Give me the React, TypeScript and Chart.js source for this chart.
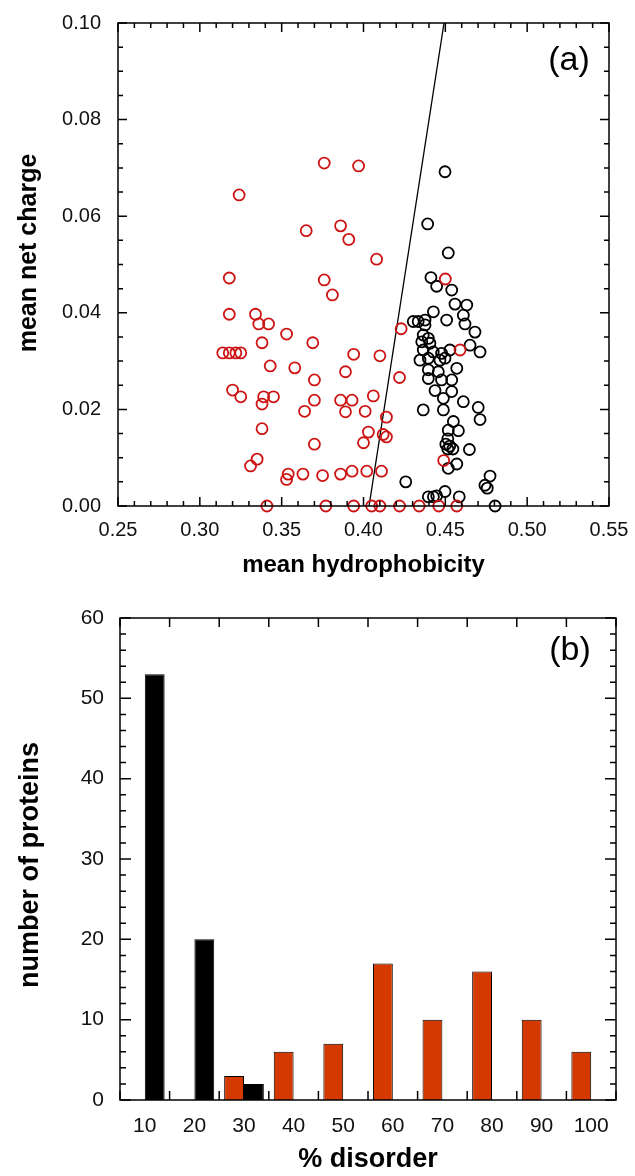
import React, { useEffect, useRef } from 'react';
import { Chart, registerables } from 'chart.js';
Chart.register(...registerables);

// ---------- Panel (a) data ----------
const redHydro = [0.376, 0.397, 0.324, 0.365, 0.386, 0.391, 0.408, 0.318, 0.376, 0.381, 0.318, 0.334, 0.336, 0.342, 0.353, 0.338, 0.369, 0.423, 0.314, 0.318, 0.322, 0.325, 0.394, 0.410, 0.343, 0.358, 0.389, 0.370, 0.422, 0.320, 0.325, 0.339, 0.345, 0.338, 0.370, 0.386, 0.393, 0.406, 0.364, 0.389, 0.401, 0.414, 0.338, 0.403, 0.412, 0.414, 0.400, 0.370, 0.335, 0.331, 0.354, 0.353, 0.363, 0.375, 0.386, 0.393, 0.402, 0.411,
  0.341, 0.377, 0.394, 0.405, 0.410, 0.422, 0.434, 0.446, 0.457,
  0.450, 0.459, 0.449];
const redCharge = [0.0710, 0.0704, 0.0644, 0.0570, 0.0580, 0.0552, 0.0511, 0.0472, 0.0468, 0.0437, 0.0397, 0.0397, 0.0377, 0.0377, 0.0356, 0.0338, 0.0338, 0.0367, 0.0317, 0.0317, 0.0317, 0.0317, 0.0314, 0.0311, 0.0290, 0.0286, 0.0278, 0.0261, 0.0266, 0.0240, 0.0226, 0.0226, 0.0226, 0.0211, 0.0219, 0.0219, 0.0219, 0.0228, 0.0196, 0.0195, 0.0196, 0.0184, 0.0160, 0.0153, 0.0148, 0.0143, 0.0131, 0.0128, 0.0097, 0.0083, 0.0066, 0.0055, 0.0066, 0.0063, 0.0066, 0.0072, 0.0072, 0.0072,
  0, 0, 0, 0, 0, 0, 0, 0, 0,
  0.0470, 0.0323, 0.0094];

const blackHydro = [0.4498, 0.4392, 0.4518, 0.4412, 0.4447, 0.4539, 0.4559, 0.4631, 0.4427, 0.4610, 0.4508, 0.4620, 0.4304, 0.4334, 0.4376, 0.4376, 0.4681, 0.4365, 0.4396, 0.4356, 0.4406, 0.4651, 0.4712, 0.4365, 0.4426, 0.4477, 0.4528, 0.4345, 0.4396, 0.4467, 0.4498, 0.4570, 0.4396, 0.4457, 0.4396, 0.4477, 0.4539, 0.4437, 0.4539, 0.4488, 0.4610, 0.4701, 0.4365, 0.4488, 0.4549, 0.4712, 0.4518, 0.4580, 0.4515, 0.4503, 0.4527, 0.4515, 0.4546, 0.4647, 0.4570, 0.4518, 0.4258, 0.4773, 0.4742, 0.4756, 0.4396, 0.4427, 0.4447, 0.4498, 0.4585, 0.4804];
const blackCharge = [0.0692, 0.0584, 0.0524, 0.0473, 0.0455, 0.0447, 0.0418, 0.0416, 0.0402, 0.0395, 0.0385, 0.0377, 0.0382, 0.0382, 0.0385, 0.0375, 0.0360, 0.0354, 0.0347, 0.0340, 0.0337, 0.0333, 0.0319, 0.0323, 0.0319, 0.0316, 0.0323, 0.0302, 0.0306, 0.0302, 0.0306, 0.0285, 0.0282, 0.0278, 0.0264, 0.0261, 0.0261, 0.0239, 0.0237, 0.0223, 0.0216, 0.0204, 0.0199, 0.0199, 0.0175, 0.0179, 0.0157, 0.0156, 0.0139, 0.0128, 0.0124, 0.0118, 0.0118, 0.0117, 0.0087, 0.0078, 0.0050, 0.0062, 0.0043, 0.0037, 0.0019, 0.0019, 0.0021, 0.0030, 0.0019, 0];

const boundaryHydro = [0.4034, 0.4492];
const boundaryCharge = [0, 0.1];

const xTicksA = [0.25, 0.30, 0.35, 0.40, 0.45, 0.50, 0.55];
const yTicksA = [0.00, 0.02, 0.04, 0.06, 0.08, 0.10];
const xMinorStepA = 0.01;
const yMinorStepA = 0.005;

// ---------- Panel (b) data ----------
const disorderCats = ['10', '20', '30', '40', '50', '60', '70', '80', '90', '100'];
const redCounts = [null, null, 3, 6, 7, 17, 10, 16, 10, 6];
const blackCounts = [53, 20, 2, null, null, null, null, null, null, null];
const yTicksB = [0, 10, 20, 30, 40, 50, 60];
const yMinorStepB = 2;

const FONT = "'Liberation Sans', Arial, sans-serif";
const RED_PT = 'rgb(205, 20, 20)';
const RED_BAR = '#d43a00';

function drawTickSet(ctx: any, segs: number[][]) {
  ctx.beginPath();
  for (const s of segs) {
    ctx.moveTo(s[0], s[1]);
    ctx.lineTo(s[2], s[3]);
  }
  ctx.stroke();
}

type FrameCfg = {
  kind: string;
  label: string;
  lx: number;
  ly: number;
  yTitle: string;
  yTitleSize: number;
  yTitleX: number;
  yTitleY: number;
};

function framePlugin(cfg: FrameCfg) {
  return {
    id: 'frame' + cfg.kind,
    afterDraw(chart: any) {
      const ctx = chart.ctx;
      const area = chart.chartArea;
      const left = area.left, right = area.right, top = area.top, bottom = area.bottom;
      const xs = chart.scales['x'];
      const ys = chart.scales['y'];
      const segs: number[][] = [];
      if (cfg.kind === 'a') {
        const nx = Math.round((xs.max - xs.min) / xMinorStepA);
        for (let i = 0; i <= nx; i++) {
          const v = xs.min + i * xMinorStepA;
          const len = i % 5 === 0 ? 9 : 5;
          const px = xs.getPixelForValue(v);
          segs.push([px, bottom, px, bottom - len]);
          segs.push([px, top, px, top + len]);
        }
        const ny = Math.round((ys.max - ys.min) / yMinorStepA);
        for (let i = 0; i <= ny; i++) {
          const v = ys.min + i * yMinorStepA;
          const len = i % 4 === 0 ? 9 : 5;
          const py = ys.getPixelForValue(v);
          segs.push([left, py, left + len, py]);
          segs.push([right, py, right - len, py]);
        }
      } else {
        for (let i = 0; i <= disorderCats.length; i++) {
          const px = xs.getPixelForValue(i - 0.5);
          segs.push([px, bottom, px, bottom - 9]);
          segs.push([px, top, px, top + 9]);
        }
        const ny = Math.round((ys.max - ys.min) / yMinorStepB);
        for (let i = 0; i <= ny; i++) {
          const v = ys.min + i * yMinorStepB;
          const len = i % 5 === 0 ? 11 : 6;
          const py = ys.getPixelForValue(v);
          segs.push([left, py, left + len, py]);
          segs.push([right, py, right - len, py]);
        }
      }
      ctx.save();
      ctx.strokeStyle = '#000000';
      ctx.lineWidth = 1.5;
      drawTickSet(ctx, segs);
      ctx.strokeRect(left, top, right - left, bottom - top);
      ctx.fillStyle = '#000';
      ctx.font = `34px ${FONT}`;
      ctx.textAlign = 'center';
      ctx.textBaseline = 'middle';
      ctx.fillText(cfg.label, right - cfg.lx, top + cfg.ly);
      // vertical axis title
      ctx.save();
      ctx.translate(cfg.yTitleX, cfg.yTitleY);
      ctx.rotate(-Math.PI / 2);
      ctx.font = `bold ${cfg.yTitleSize}px ${FONT}`;
      ctx.fillText(cfg.yTitle, 0, 0);
      ctx.restore();
      ctx.restore();
    },
  };
}

const zeroHPad = (s: any) => { s.paddingLeft = 0; s.paddingRight = 0; };
const zeroVPad = (s: any) => { s.paddingTop = 0; s.paddingBottom = 0; };

export default function App() {
  const refA = useRef<HTMLCanvasElement>(null);
  const refB = useRef<HTMLCanvasElement>(null);

  useEffect(() => {
    Chart.defaults.font.family = FONT;
    Chart.defaults.color = '#111';

    const redPts = redHydro.map((x, i) => ({ x, y: redCharge[i] }));
    const blackPts = blackHydro.map((x, i) => ({ x, y: blackCharge[i] }));
    const linePts = boundaryHydro.map((x, i) => ({ x, y: boundaryCharge[i] }));

    const chartA = new Chart(refA.current as HTMLCanvasElement, {
      type: 'scatter',
      data: {
        datasets: [
          {
            data: redPts,
            pointStyle: 'circle',
            pointRadius: 5.5,
            pointBorderWidth: 1.8,
            borderColor: RED_PT,
            backgroundColor: 'rgba(0,0,0,0)',
            clip: false,
            order: 1,
          } as any,
          {
            data: blackPts,
            pointStyle: 'circle',
            pointRadius: 5.5,
            pointBorderWidth: 1.8,
            borderColor: '#000',
            backgroundColor: 'rgba(0,0,0,0)',
            clip: false,
            order: 2,
          } as any,
          {
            type: 'line',
            data: linePts,
            borderColor: '#000',
            borderWidth: 1.3,
            pointRadius: 0,
            showLine: true,
            fill: false,
            order: 3,
          } as any,
        ],
      },
      options: {
        responsive: false,
        animation: false,
        events: [],
        layout: { padding: { left: 0, right: 26, top: 23, bottom: 0 } },
        plugins: { legend: { display: false }, tooltip: { enabled: false } },
        scales: {
          x: {
            type: 'linear',
            min: 0.25,
            max: 0.55,
            afterBuildTicks: (s: any) => { s.ticks = xTicksA.map((v) => ({ value: v })); },
            afterFit: (s: any) => { s.height = 86; zeroHPad(s); },
            grid: { display: false, drawTicks: false },
            border: { display: false },
            ticks: {
              padding: 12,
              font: { size: 20 },
              color: '#111',
              callback: (v: any) => Number(v).toFixed(2),
              maxRotation: 0,
            },
            title: {
              display: true,
              text: 'mean hydrophobicity',
              font: { size: 24, weight: 'bold' },
              color: '#000',
              padding: { top: 0, bottom: 12 },
            },
          },
          y: {
            type: 'linear',
            min: 0,
            max: 0.1,
            afterBuildTicks: (s: any) => { s.ticks = yTicksA.map((v) => ({ value: v })); },
            afterFit: (s: any) => { s.width = 118; zeroVPad(s); },
            grid: { display: false, drawTicks: false },
            border: { display: false },
            ticks: {
              padding: 17,
              font: { size: 20 },
              color: '#111',
              callback: (v: any) => Number(v).toFixed(2),
            },
            title: { display: false },
          },
        },
      },
      plugins: [framePlugin({ kind: 'a', label: '(a)', lx: 40, ly: 38, yTitle: 'mean net charge', yTitleSize: 25, yTitleX: 29, yTitleY: 253 })],
    } as any);

    const chartB = new Chart(refB.current as HTMLCanvasElement, {
      type: 'bar',
      data: {
        labels: disorderCats,
        datasets: [
          {
            data: redCounts,
            backgroundColor: RED_BAR,
            borderColor: '#000',
            borderWidth: 1,
            borderSkipped: 'bottom',
            categoryPercentage: 0.8,
            barPercentage: 1.0,
          } as any,
          {
            data: blackCounts,
            backgroundColor: '#000',
            borderColor: '#000',
            borderWidth: 1,
            borderSkipped: 'bottom',
            categoryPercentage: 0.8,
            barPercentage: 1.0,
          } as any,
        ],
      },
      options: {
        responsive: false,
        animation: false,
        events: [],
        layout: { padding: { left: 0, right: 19, top: 26, bottom: 0 } },
        plugins: { legend: { display: false }, tooltip: { enabled: false } },
        scales: {
          x: {
            type: 'category',
            offset: true,
            afterFit: (s: any) => { s.height = 76; zeroHPad(s); },
            grid: { display: false, drawTicks: false, offset: true },
            border: { display: false },
            ticks: { padding: 14, font: { size: 21 }, color: '#111', maxRotation: 0, autoSkip: false },
            title: {
              display: true,
              text: '% disorder',
              font: { size: 27, weight: 'bold' },
              color: '#000',
              padding: { top: 0, bottom: 0 },
            },
          },
          y: {
            type: 'linear',
            min: 0,
            max: 60,
            afterBuildTicks: (s: any) => { s.ticks = yTicksB.map((v) => ({ value: v })); },
            afterFit: (s: any) => { s.width = 120; zeroVPad(s); },
            grid: { display: false, drawTicks: false },
            border: { display: false },
            ticks: { padding: 16, font: { size: 21 }, color: '#111' },
            title: { display: false },
          },
        },
      },
      plugins: [framePlugin({ kind: 'b', label: '(b)', lx: 46, ly: 33, yTitle: 'number of proteins', yTitleSize: 27, yTitleX: 31, yTitleY: 273 })],
    } as any);

    return () => {
      chartA.destroy();
      chartB.destroy();
    };
  }, []);

  return (
    <div style={{ position: 'absolute', left: 0, top: 0, width: 635, height: 1176, background: '#fff' }}>
      <canvas ref={refA} width={635} height={592} style={{ position: 'absolute', left: 0, top: 0, display: 'block' }} />
      <canvas ref={refB} width={635} height={584} style={{ position: 'absolute', left: 0, top: 592, display: 'block' }} />
    </div>
  );
}
